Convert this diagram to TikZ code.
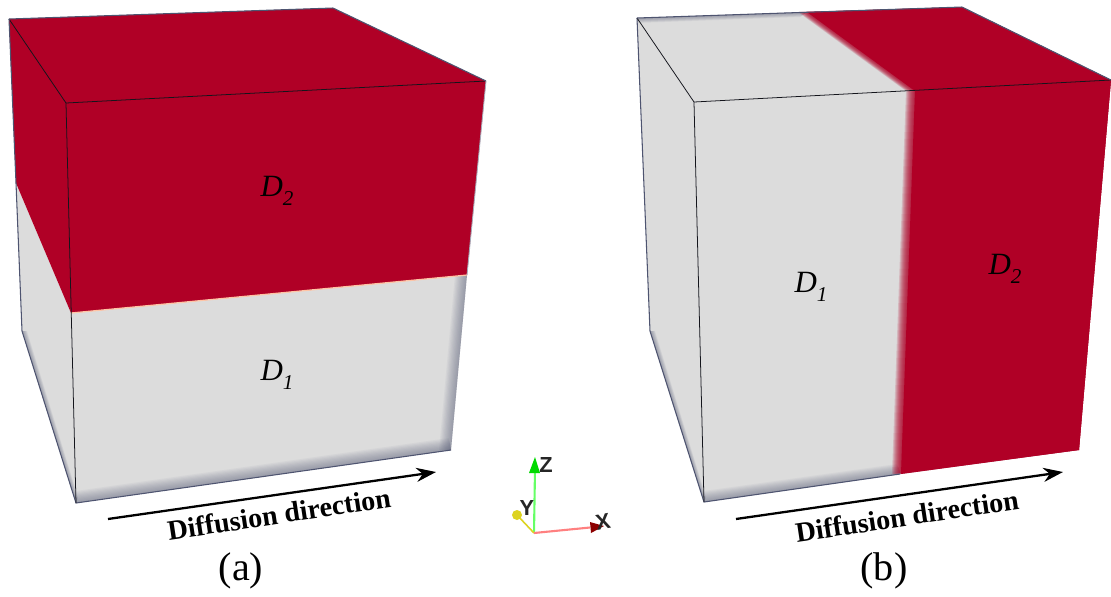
\documentclass[tikz,border=0pt]{standalone}
\usepackage{fontspec}
\setmainfont{Liberation Serif}
\setsansfont{Liberation Sans}
\usetikzlibrary{arrows.meta,calc}
\definecolor{DomainRed}{HTML}{B00026}
\definecolor{DomainGray}{HTML}{DCDCDC}
\definecolor{EdgeBlue}{HTML}{4E5470}
\tikzset{
  edgeline/.style={draw=black!75!EdgeBlue,line width=0.22pt},
  rimline/.style={draw=EdgeBlue,line width=0.3pt},
  flowarrow/.style={-{Stealth[length=5.6pt,width=4pt]},line width=0.65pt,black},
  flowlabel/.style={font=\fontsize{8}{9}\selectfont\bfseries,inner sep=0pt},
  caselabel/.style={font=\fontsize{11.4}{13}\selectfont,inner sep=0pt},
  domlabel/.style={font=\fontsize{8.8}{10}\selectfont\itshape,inner sep=0pt},
  axisname/.style={font=\fontsize{6.2}{7}\selectfont\sffamily\bfseries,inner sep=0pt,text=black!85}
}
% soft rim: #1,#2 outer edge, #3,#4 inner edge
\newcommand{\softrim}[4]{
  \foreach \t in {0.1,0.2,...,1.01}{
    \fill[EdgeBlue,opacity=0.055] (#1) -- (#2) -- ($(#2)!\t!(#4)$) -- ($(#1)!\t!(#3)$) -- cycle;
  }
}
\begin{document}
\begin{tikzpicture}[x=0.01cm,y=-0.01cm]
\useasboundingbox (0,0) rectangle (1111,596);
% left cube
\coordinate (aback) at (9,19);
\coordinate (atop) at (333,8);
\coordinate (aright) at (486,81);
\coordinate (afront) at (66,103);
\coordinate (alow) at (76,503);
\coordinate (abot) at (451,450);
\coordinate (aside) at (22,331);
\coordinate (asplitl) at (16,183);
\coordinate (asplitm) at (71,313);
\coordinate (asplitr) at (467,275);
\fill[DomainGray] (asplitl) -- (asplitm) -- (asplitr) -- (abot) -- (alow) -- (aside) -- cycle;
\softrim{alow}{abot}{76,491}{449,438}
\softrim{abot}{asplitr}{439,450}{455,275}
\softrim{aside}{alow}{27,331}{78,497}
\fill[DomainRed] (aback) -- (atop) -- (aright) -- (asplitr) -- (asplitm) -- (asplitl) -- cycle;
\draw[red!30!orange!35,line width=0.35pt] (asplitm) -- (asplitr);
\draw[rimline] (asplitl) -- (aside) -- (alow) -- (abot);
\draw[edgeline] (aback) -- (afront);
\draw[edgeline] (afront) -- (aright);
\draw[edgeline] (afront) -- (alow);
\draw[rimline] (aback) -- (atop);
\draw[rimline] (atop) -- (aright);
\draw[draw=white!50!EdgeBlue,line width=0.25pt] (aright) -- (asplitr);
\draw[rimline] (aback) -- (asplitl);
% right cube
\coordinate (bback) at (637,18);
\coordinate (btop) at (962,7);
\coordinate (bright) at (1111,80);
\coordinate (bfront) at (694,102);
\coordinate (blow) at (704,502);
\coordinate (bbot) at (1079,450);
\coordinate (bside) at (650,331);
\coordinate (bsplitt) at (807,12);
\coordinate (bsplitm) at (915,91);
\coordinate (bsplitb) at (901,474);
\fill[DomainGray] (bback) -- (btop) -- (bright) -- (bbot) -- (bsplitb) -- (blow) -- (bside) -- cycle;
\softrim{blow}{bsplitb}{704,491}{897,464}
\softrim{bside}{blow}{655,331}{706,497}
\softrim{bback}{bsplitt}{637,23}{800,17}
% blurred interface, layers overlap so no seams show
\foreach \t in {0,1,...,9}{
  \fill[DomainRed,opacity=0.16] ($(bsplitb)+(-9+\t,0)$) -- ($(bsplitm)+(-9+\t,0)$)
    -- ($(bsplitt)+(-9+\t,0)$) -- (btop) -- (bright) -- (bbot) -- cycle;
}
\fill[DomainRed] (bsplitb) -- (bsplitm) -- (bsplitt) -- (btop) -- (bright) -- (bbot) -- cycle;
\draw[rimline] (bback) -- (bside) -- (blow) -- (900,474);
\draw[edgeline] (bback) -- (bfront);
\draw[edgeline] (bfront) -- (bright);
\draw[edgeline] (bfront) -- (blow);
\draw[rimline] (bback) -- (btop);
\draw[rimline] (btop) -- (bright);
% labels
\node[domlabel] (dtwoa) at (277,191) {D\raisebox{-2.5pt}{\fontsize{6}{7}\selectfont 2}};
\node[domlabel] (donea) at (277,375) {D\raisebox{-2.5pt}{\fontsize{6}{7}\selectfont 1}};
\node[domlabel] (doneb) at (811,287) {D\raisebox{-2.5pt}{\fontsize{6}{7}\selectfont 1}};
\node[domlabel] (dtwob) at (1005,269) {D\raisebox{-2.5pt}{\fontsize{6}{7}\selectfont 2}};
% diffusion arrows
\coordinate (astart) at (108,519);
\coordinate (aend) at (436,472);
\coordinate (bstart) at (736,519);
\coordinate (bend) at (1063,472);
\draw[flowarrow] (astart) -- (aend);
\draw[flowarrow] (bstart) -- (bend);
\node[flowlabel,rotate=8.6] (flowa) at (279,514) {Diffusion direction};
\node[flowlabel,rotate=8.6] (flowb) at (907,516) {Diffusion direction};
\node[caselabel] (casea) at (241,571) {(a)};
\node[caselabel] (caseb) at (884,571) {(b)};
% axes triad
\coordinate (origin) at (534,533);
\coordinate (xtip) at (590,527.5);
\coordinate (ytip) at (517,515);
\coordinate (ztip) at (535,457);
\draw[green!60!white,line width=0.6pt] (origin) -- (535,470);
\fill[green!85!black] (ztip) -- (529,473) -- (540,473) -- cycle;
\draw[yellow!85!black,line width=0.45pt] (origin) -- (ytip);
\fill[yellow!85!black] (ytip) circle (5);
\draw[red!50!white,line width=0.6pt] (origin) -- (xtip);
\fill[red!55!black] (590,522) -- (604,526) -- (591,533) -- cycle;
\node[axisname] (zname) at (546,465) {Z};
\node[axisname] (yname) at (527,508) {Y};
\node[axisname,rotate=10] (xname) at (603,522) {X};
\end{tikzpicture}
\end{document}
